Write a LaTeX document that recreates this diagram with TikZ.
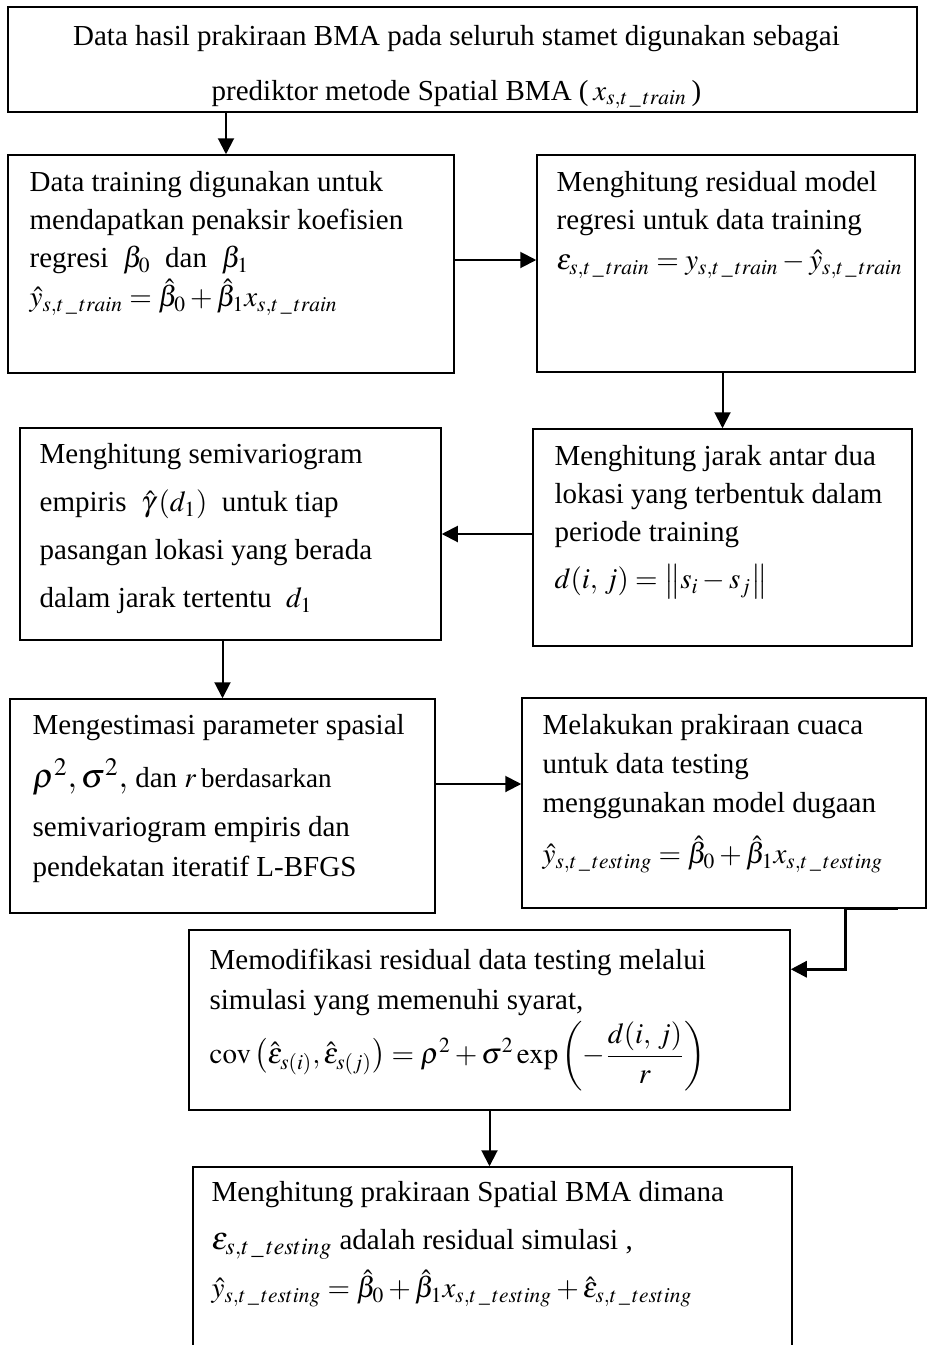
\documentclass[tikz,border=0pt]{standalone}
\usepackage{amsmath}
\usepackage{mathptmx}
\usepackage[no-math]{fontspec}
\setmainfont{Liberation Serif}
\usetikzlibrary{arrows.meta,fit}
\newcommand{\stidx}[1]{s,t\,\_\,#1}
\tikzstyle{blok}=[draw, line width=0.75pt, inner sep=0pt]
\tikzstyle{isi}=[anchor=north west, align=left, inner sep=0pt]
\begin{document}
\begin{tikzpicture}[x=0.5pt, y=-0.5pt, >={Triangle[length=8pt,width=8pt]}]
\clip (0,0) rectangle (928,1345);

% kotak proses
\node[blok, line width=1pt, fit={(8,7) (917,112)}] (b1) {};
\node[blok, fit={(8,155) (454,373)}] (b2) {};
\node[blok, fit={(537,155) (915,372)}] (b3) {};
\node[blok, fit={(533,429) (912,646)}] (b4) {};
\node[blok, fit={(20,428) (441,640)}] (b5) {};
\node[blok, fit={(10,699) (435,913)}] (b6) {};
\node[blok, fit={(522,698) (926,908)}] (b7) {};
\node[blok, fit={(189,930) (790,1110)}] (b8) {};
\node[blok, fit={(193,1167) (792,1400)}] (b9) {};

% isi kotak
\node[isi, anchor=north, align=center, font=\fontsize{14.5}{27.5}\selectfont] (t1) at ([shift={(-6,19)}]b1.north)
  {Data hasil prakiraan BMA pada seluruh stamet digunakan sebagai\\
   prediktor metode Spatial BMA (\,$x_{\stidx{train}}$\,)};
\node[isi, font=\fontsize{14.5}{19}\selectfont] (t2) at ([shift={(22,17)}]b2.north west)
  {Data training digunakan untuk\\
   mendapatkan penaksir koefisien\\
   regresi \ $\beta_0$ \ dan \ $\beta_1$\\[0.5pt]
   $\hat{y}_{\stidx{train}} = \hat{\beta}_0 + \hat{\beta}_1 x_{\stidx{train}}$};
\node[isi, font=\fontsize{14.5}{19}\selectfont] (t3) at ([shift={(20,17)}]b3.north west)
  {Menghitung residual model\\
   regresi untuk data training\\[1pt]
   $\varepsilon_{\stidx{train}} = y_{\stidx{train}} - \hat{y}_{\stidx{train}}$};
\node[isi, font=\fontsize{14.5}{19}\selectfont] (t4) at ([shift={(22,17)}]b4.north west)
  {Menghitung jarak antar dua\\
   lokasi yang terbentuk dalam\\
   periode training\\[4.5pt]
   $d(i,\,j) = \left\| s_i - s_j \right\|$};
\node[isi, font=\fontsize{14.5}{24}\selectfont] (t5) at ([shift={(20,16)}]b5.north west)
  {Menghitung semivariogram\\
   empiris \ $\hat{\gamma}\left(d_1\right)$ \ untuk tiap\\
   pasangan lokasi yang berada\\
   dalam jarak tertentu \ $d_1$};
\node[isi, font=\fontsize{14.5}{20}\selectfont] (t6) at ([shift={(23,16)}]b6.north west)
  {Mengestimasi parameter spasial\\[6.5pt]
   {\fontsize{17}{20}\selectfont$\rho^2,\sigma^2,$} dan $r$\,{\fontsize{13.5}{20}\selectfont berdasarkan}\\[4.5pt]
   semivariogram empiris dan\\
   pendekatan iteratif L-BFGS};
\node[isi, font=\fontsize{14.5}{19.5}\selectfont] (t7) at ([shift={(21,17)}]b7.north west)
  {Melakukan prakiraan cuaca\\
   untuk data testing\\
   menggunakan model dugaan\\[6pt]
   $\hat{y}_{\stidx{testing}} = \hat{\beta}_0 + \hat{\beta}_1 x_{\stidx{testing}}$};
\node[isi, font=\fontsize{14.5}{20}\selectfont] (t8) at ([shift={(21,19)}]b8.north west)
  {Memodifikasi residual data testing melalui\\
   simulasi yang memenuhi syarat,\\[2pt]
   $\mathrm{cov}\left(\hat{\varepsilon}_{s(i)},\hat{\varepsilon}_{s(j)}\right) = \rho^2 + \sigma^2 \exp\left(-\dfrac{d(i,\,j)}{r}\right)$};
\node[isi, font=\fontsize{14.5}{24}\selectfont] (t9) at ([shift={(19,15)}]b9.north west)
  {Menghitung prakiraan Spatial BMA dimana\\
   {\fontsize{16}{24}\selectfont$\varepsilon_{\stidx{testing}}$} adalah residual simulasi ,\\
   $\hat{y}_{\stidx{testing}} = \hat{\beta}_0 + \hat{\beta}_1 x_{\stidx{testing}} + \hat{\varepsilon}_{\stidx{testing}}$};

% panah
\draw[->, line width=1pt] ([shift={(-5,0)}]b2.north |- b1.south) -- ([shift={(-5,0)}]b2.north);
\draw[->, line width=1pt] ([shift={(0,-4)}]b2.east) -- ([shift={(0,-4)}]b2.east -| b3.west);
\draw[->, line width=1pt] (b4.north |- b3.south) -- (b4.north);
\draw[->, line width=1pt] (b4.west |- b5.east) -- (b5.east);
\draw[->, line width=1pt] (b6.north |- b5.south) -- (b6.north);
\draw[->, line width=1pt] ([shift={(0,-22)}]b6.east) -- ([shift={(0,-19)}]b7.west);
\draw[->, line width=1.5pt] ([shift={(-29,0)}]b7.south east) -- ++(-52,0) |- ([shift={(0,40)}]b8.north east);
\draw[->, line width=1pt] (b8.south) -- (b8.south |- b9.north);
\end{tikzpicture}
\end{document}
